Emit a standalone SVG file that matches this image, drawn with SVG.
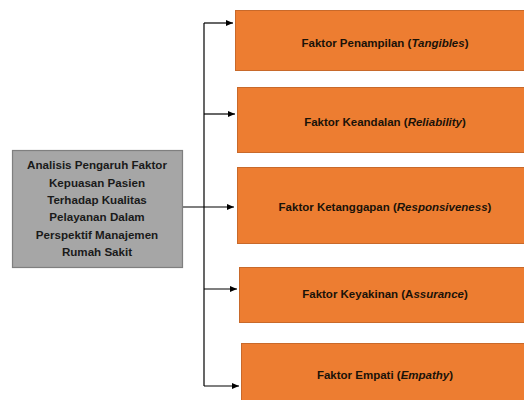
<svg xmlns="http://www.w3.org/2000/svg" width="524" height="400" viewBox="0 0 524 400">
<defs>
<style>
.o{fill:#ED7D31;stroke:#C8692A;stroke-width:1}
.g{fill:#A6A6A6;stroke:#7F7F7F;stroke-width:1.2}
.t{font-family:"Liberation Sans",Arial,sans-serif;font-weight:bold;font-size:11.5px;fill:#1a1208;text-anchor:middle}
.gt{font-family:"Liberation Sans",Arial,sans-serif;font-weight:bold;font-size:11.6px;fill:#1a1a1a;text-anchor:middle}
.c{stroke:#000;stroke-width:1.2;fill:none}
</style>
<marker id="ah" markerWidth="8" markerHeight="8" refX="7" refY="4" orient="auto" markerUnits="userSpaceOnUse">
<path d="M0,1 L7,4 L0,7 Z" fill="#000"/>
</marker>
</defs>
<rect width="524" height="400" fill="#fff"/>
<g id="connectors">
<line class="c" x1="183" y1="207" x2="234" y2="207" marker-end="url(#ah)"/>
<line class="c" x1="204" y1="23" x2="204" y2="386"/>
<line class="c" x1="204" y1="23" x2="233" y2="23" marker-end="url(#ah)"/>
<line class="c" x1="204" y1="114" x2="235" y2="114" marker-end="url(#ah)"/>
<line class="c" x1="204" y1="289" x2="237" y2="289" marker-end="url(#ah)"/>
<line class="c" x1="204" y1="386" x2="239" y2="386" marker-end="url(#ah)"/>
</g>
<g id="main">
<rect class="g" x="12.5" y="150.5" width="170" height="117"/>
<text class="gt" x="97" y="169">Analisis Pengaruh Faktor</text>
<text class="gt" x="97" y="187">Kepuasan Pasien</text>
<text class="gt" x="97" y="204">Terhadap Kualitas</text>
<text class="gt" x="97" y="221">Pelayanan Dalam</text>
<text class="gt" x="97" y="239">Perspektif Manajemen</text>
<text class="gt" x="97" y="256">Rumah Sakit</text>
</g>
<g id="tangibles">
<rect class="o" x="235.5" y="10.5" width="290" height="60"/>
<text class="t" x="385" y="47">Faktor Penampilan (<tspan font-style="italic">Tangibles</tspan>)</text>
</g>
<g id="reliability">
<rect class="o" x="237.5" y="87.5" width="290" height="65"/>
<text class="t" x="385" y="126">Faktor Keandalan (<tspan font-style="italic">Reliability</tspan>)</text>
</g>
<g id="responsiveness">
<rect class="o" x="237.5" y="167.5" width="290" height="76"/>
<text class="t" x="385" y="211">Faktor Ketanggapan (<tspan font-style="italic">Responsiveness</tspan>)</text>
</g>
<g id="assurance">
<rect class="o" x="239.5" y="267.5" width="290" height="55"/>
<text class="t" x="385" y="298">Faktor Keyakinan (A<tspan font-style="italic">ssurance</tspan>)</text>
</g>
<g id="empathy">
<rect class="o" x="241.5" y="343.5" width="290" height="70"/>
<text class="t" x="385" y="379">Faktor Empati (<tspan font-style="italic">Empathy</tspan>)</text>
</g>
</svg>
